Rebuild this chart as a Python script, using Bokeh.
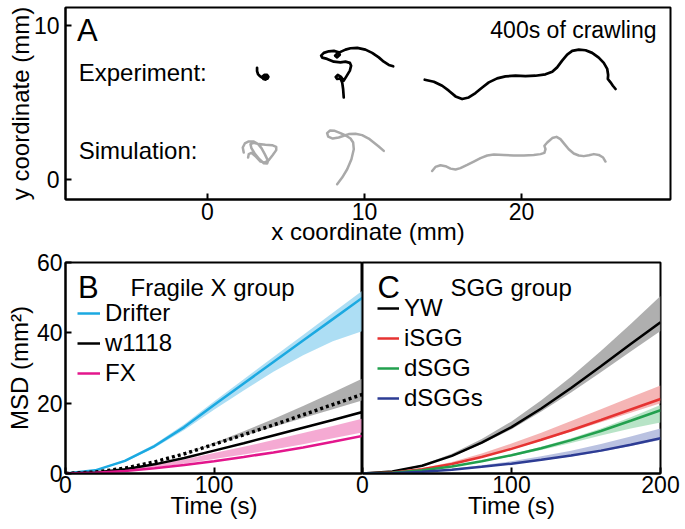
from bokeh.plotting import figure
from bokeh.models import Label, Legend, LegendItem, FixedTicker, Range1d
from bokeh.layouts import column, row
from bokeh.embed import file_html
from bokeh.resources import INLINE

FONT = "Liberation Sans"

# ---------------- Panel A: example trajectories (mm) ----------------
exp1_x = [3.16, 3.16, 3.22, 3.34, 3.50, 3.66, 3.82, 3.88, 3.80, 3.62, 3.50, 3.56, 3.72, 3.84, 3.76, 3.60]
exp1_y = [7.26, 7.05, 6.86, 6.72, 6.62, 6.54, 6.56, 6.68, 6.80, 6.80, 6.68, 6.54, 6.50, 6.62, 6.74, 6.70]

exp2_x = [8.68, 8.64, 8.58, 8.47, 8.26, 8.17, 8.30, 8.51, 8.68, 8.85, 9.07, 9.15, 9.07, 8.79,
          8.47, 8.05, 7.62, 7.31, 7.24, 7.41, 7.73, 8.05, 8.36, 8.43, 8.26, 8.13, 8.26, 8.51,
          8.79, 9.11, 9.54, 10.06, 10.49, 10.91, 11.23, 11.55, 11.83]
exp2_y = [5.34, 5.89, 6.32, 6.58, 6.54, 6.67, 6.80, 6.67, 6.43, 6.71, 7.08, 7.40, 7.58, 7.66,
          7.62, 7.66, 7.84, 7.92, 8.05, 8.23, 8.33, 8.36, 8.27, 8.10, 7.94, 8.05, 8.18, 8.31,
          8.44, 8.53, 8.55, 8.44, 8.23, 7.94, 7.66, 7.45, 7.36]

exp3_x = [13.84, 14.42, 14.95, 15.37, 15.80, 16.22, 16.64, 17.07, 17.50, 17.92, 18.45, 18.98,
          19.62, 20.25, 20.89, 21.53, 21.96, 22.27, 22.59, 22.91, 23.23, 23.65, 24.08, 24.50,
          24.92, 25.24, 25.46, 25.52, 25.50, 25.67, 25.82, 25.99]
exp3_y = [6.49, 6.36, 6.10, 5.78, 5.41, 5.24, 5.34, 5.63, 5.99, 6.32, 6.58, 6.71,
          6.75, 6.73, 6.75, 6.84, 7.01, 7.29, 7.73, 8.12, 8.36, 8.44, 8.40, 8.23,
          7.92, 7.58, 7.19, 6.80, 6.54, 6.32, 6.10, 5.89]

sim1_x = [2.31, 2.25, 2.38, 2.63, 2.95, 3.23, 3.44, 3.65, 3.86, 3.80, 3.59, 3.31, 3.01, 2.80,
          2.74, 2.95, 3.27, 3.69, 4.12, 4.38, 4.38, 4.16, 3.90, 3.65, 3.38, 3.10, 2.80, 2.63, 2.59]
sim1_y = [1.77, 2.10, 2.36, 2.49, 2.49, 2.32, 2.06, 1.67, 1.23, 1.06, 1.08, 1.34, 1.71, 2.06,
          2.32, 2.40, 2.32, 2.27, 2.25, 2.14, 1.93, 1.62, 1.28, 1.12, 1.19, 1.49, 1.75, 1.67, 1.45]

sim2_x = [8.26, 8.58, 8.90, 9.17, 9.32, 9.28, 9.11, 8.83, 8.47, 8.11, 7.81, 7.62, 7.69, 7.98,
          8.36, 8.68, 9.00, 9.43, 9.85, 10.27, 10.59, 10.91, 11.23]
sim2_y = [-0.28, 0.15, 0.69, 1.34, 1.99, 2.42, 2.68, 2.86, 3.03, 3.18, 3.20, 3.03, 2.81, 2.68,
          2.75, 2.86, 2.97, 2.99, 2.90, 2.68, 2.42, 2.16, 1.88]

sim3_x = [14.31, 14.52, 14.84, 15.16, 15.48, 15.80, 16.11, 16.54, 16.96, 17.39, 17.82, 18.24,
          18.87, 19.51, 20.15, 20.78, 21.21, 21.46, 21.53, 21.46, 21.64, 21.96, 22.23, 22.48,
          22.74, 23.01, 23.33, 23.65, 23.97, 24.29, 24.61, 24.92, 25.20, 25.35]
sim3_y = [0.58, 0.84, 0.95, 0.89, 0.73, 0.67, 0.76, 0.97, 1.19, 1.41, 1.58, 1.64,
          1.62, 1.58, 1.58, 1.62, 1.67, 1.75, 1.99, 2.21, 2.42, 2.71, 2.79, 2.64,
          2.32, 1.99, 1.71, 1.58, 1.54, 1.60, 1.67, 1.62, 1.45, 1.19]

a_xticks = [0, 10, 20]
a_yticks = [0, 10]

# ---------------- Panels B & C: MSD curves ----------------
t = [0, 20, 40, 60, 80, 100, 120, 140, 160, 180, 200]

# Fragile X group
drifter = [0, 0.9, 3.6, 7.8, 13.2, 19.5, 25.6, 31.7, 37.8, 43.9, 50]
drifter_lo = [0, 0.8, 3.3, 7.3, 12.4, 18.1, 23.6, 28.9, 33.6, 37.6, 40.5]
drifter_hi = [0, 1.0, 3.9, 8.3, 14.0, 20.5, 26.8, 33.1, 39.4, 45.7, 52]
w1118 = [0, 0.3, 1.2, 2.6, 4.4, 6.5, 8.6, 10.8, 13.0, 15.2, 17.5]
w1118_sim = [0, 0.4, 1.5, 3.3, 5.6, 8.3, 11.0, 13.8, 16.7, 19.6, 22.5]
w1118_lo = [0, 0.4, 1.5, 3.3, 5.6, 8.2, 10.7, 13.2, 15.8, 18.3, 20.8]
w1118_hi = [0, 0.4, 1.5, 3.3, 5.7, 8.7, 12.0, 15.5, 19.2, 23.0, 27.0]
fx = [0, 0.2, 0.7, 1.5, 2.4, 3.5, 4.7, 6.0, 7.4, 9.0, 10.7]
fx_lo = [0, 0.25, 0.8, 1.7, 2.8, 4.1, 5.4, 6.8, 8.3, 10.0, 11.7]
fx_hi = [0, 0.3, 1.1, 2.4, 4.0, 5.8, 7.6, 9.5, 11.5, 13.5, 15.6]

# SGG group
yw = [0, 0.6, 2.2, 5.0, 8.8, 13.2, 18.5, 24.3, 30.5, 36.8, 43]
yw_lo = [0, 0.6, 2.1, 4.8, 8.4, 12.6, 17.6, 23.0, 28.8, 34.7, 40.5]
yw_hi = [0, 0.7, 2.5, 5.6, 9.8, 14.8, 20.8, 27.5, 34.8, 42.5, 50.5]
isgg = [0, 0.3, 1.2, 2.7, 4.7, 7.0, 9.6, 12.3, 15.2, 18.2, 21.2]
isgg_lo = [0, 0.3, 1.2, 2.7, 4.6, 6.8, 9.3, 11.9, 14.6, 17.3, 20.0]
isgg_hi = [0, 0.4, 1.5, 3.3, 5.7, 8.5, 11.6, 14.9, 18.3, 21.7, 25.0]
dsgg = [0, 0.2, 0.9, 2.0, 3.5, 5.2, 7.2, 9.5, 12.1, 15.0, 18.0]
dsgg_lo = [0, 0.2, 0.85, 1.9, 3.3, 4.9, 6.7, 8.7, 10.8, 12.8, 14.5]
dsgg_hi = [0, 0.2, 0.95, 2.1, 3.7, 5.5, 7.6, 10.0, 12.8, 16.0, 19.5]
dsggs = [0, 0.1, 0.5, 1.1, 1.9, 2.8, 3.9, 5.1, 6.5, 8.2, 10.0]
dsggs_lo = [0, 0.1, 0.48, 1.05, 1.8, 2.65, 3.7, 4.85, 6.2, 7.8, 9.5]
dsggs_hi = [0, 0.12, 0.6, 1.35, 2.35, 3.5, 4.9, 6.5, 8.4, 10.5, 12.8]

b_xticks = [0, 100]
c_xticks = [0, 100, 200]
msd_yticks = [0, 20, 40, 60]


def style_axes(p, tick_size, label_size):
    p.outline_line_color = "black"
    p.outline_line_width = 2
    p.outline_line_alpha = 1
    p.grid.visible = False
    p.background_fill_color = "white"
    for ax in p.axis:
        ax.major_tick_in = 6
        ax.major_tick_out = 0
        ax.minor_tick_in = 0
        ax.minor_tick_out = 0
        ax.axis_line_width = 2
        ax.major_tick_line_width = 2
        ax.major_label_text_font = FONT
        ax.major_label_text_font_size = tick_size
        ax.major_label_text_color = "black"
        ax.axis_label_text_font = FONT
        ax.axis_label_text_font_size = label_size
        ax.axis_label_text_font_style = "normal"
        ax.axis_label_text_color = "black"


def label(p, x, y, text, size, align="left"):
    p.add_layout(Label(x=x, y=y, text=text, text_font=FONT, text_font_size=size,
                       text_color="black", text_baseline="middle", text_align=align))


# ---------------- Figure A ----------------
pA = figure(frame_width=605, frame_height=192, x_range=Range1d(-9.04, 29.49),
            y_range=Range1d(-1.27, 11.17), output_backend="svg", toolbar_location=None,
            min_border_left=65, min_border_right=15, min_border_top=7, min_border_bottom=51)
pA.xaxis.ticker = FixedTicker(ticks=a_xticks)
pA.yaxis.ticker = FixedTicker(ticks=a_yticks)
pA.xaxis.axis_label = "x coordinate (mm)"
pA.yaxis.axis_label = "y coordinate (mm)"
style_axes(pA, "23px", "24px")
pA.xaxis.major_label_standoff = 3
pA.xaxis.axis_label_standoff = -5
pA.yaxis.major_label_standoff = 6
pA.yaxis.axis_label_standoff = -3

for xs, ys in [(exp1_x, exp1_y), (exp2_x, exp2_y), (exp3_x, exp3_y)]:
    pA.line(xs, ys, line_color="black", line_width=2.7, line_join="round", line_cap="round")
for xs, ys in [(sim1_x, sim1_y), (sim2_x, sim2_y), (sim3_x, sim3_y)]:
    pA.line(xs, ys, line_color="#A9A9A9", line_width=2.5, line_join="round", line_cap="round")

label(pA, -8.3, 9.68, "A", "31px")
label(pA, 28.6, 9.68, "400s of crawling", "23px", "right")
label(pA, -8.2, 6.98, "Experiment:", "24px")
label(pA, -8.2, 1.92, "Simulation:", "24px")

# ---------------- Figure B ----------------
pB = figure(frame_width=297, frame_height=211, x_range=Range1d(0, 200), y_range=Range1d(0, 60),
            output_backend="svg", toolbar_location=None,
            min_border_left=65, min_border_right=0, min_border_top=12, min_border_bottom=56)
pB.xaxis.ticker = FixedTicker(ticks=b_xticks)
pB.yaxis.ticker = FixedTicker(ticks=msd_yticks)
pB.xaxis.axis_label = "Time (s)"
pB.yaxis.axis_label = "MSD (mm²)"
style_axes(pB, "23px", "24px")
pB.xaxis.major_label_standoff = 2
pB.xaxis.axis_label_standoff = -4
pB.yaxis.major_label_standoff = 3
pB.yaxis.axis_label_standoff = 1

pB.varea(x=t, y1=drifter_lo, y2=drifter_hi, fill_color="#9FD8F2", fill_alpha=0.85)
pB.varea(x=t, y1=w1118_lo, y2=w1118_hi, fill_color="#A6A6A6", fill_alpha=0.9)
pB.varea(x=t, y1=fx_lo, y2=fx_hi, fill_color="#F39BCB", fill_alpha=0.85)
r_dr = pB.line(t, drifter, line_color="#1BA9E1", line_width=2.5)
pB.line(t, w1118_sim, line_color="black", line_width=3.5, line_dash="3 3")
r_w = pB.line(t, w1118, line_color="black", line_width=2.5)
r_fx = pB.line(t, fx, line_color="#E3168C", line_width=2.5)

legB = Legend(items=[LegendItem(label="Drifter", renderers=[r_dr]),
                     LegendItem(label="w1118", renderers=[r_w]),
                     LegendItem(label="FX", renderers=[r_fx])],
              location=(12, 86), label_text_font=FONT, label_text_font_size="24px",
              label_text_color="black",
              glyph_width=23, glyph_height=26, label_height=26, label_standoff=5, spacing=2,
              padding=0, margin=0, border_line_color=None, background_fill_alpha=0)
pB.add_layout(legB)
label(pB, 8.5, 52.9, "B", "31px")
label(pB, 43.8, 52.9, "Fragile X group", "24px")

# ---------------- Figure C ----------------
pC = figure(frame_width=298, frame_height=211, x_range=Range1d(0, 200), y_range=Range1d(0, 60),
            output_backend="svg", toolbar_location=None,
            min_border_left=8, min_border_right=25, min_border_top=12, min_border_bottom=56)
pC.xaxis.ticker = FixedTicker(ticks=c_xticks)
pC.xaxis.axis_label = "Time (s)"
pC.yaxis.visible = False
style_axes(pC, "23px", "24px")
pC.xaxis.major_label_standoff = 2
pC.xaxis.axis_label_standoff = -4
pC.border_fill_alpha = 0
pC.margin = (0, 0, 0, -8)

pC.varea(x=t, y1=yw_lo, y2=yw_hi, fill_color="#A6A6A6", fill_alpha=0.9)
pC.varea(x=t, y1=isgg_lo, y2=isgg_hi, fill_color="#F3A3A3", fill_alpha=0.8)
pC.varea(x=t, y1=dsgg_lo, y2=dsgg_hi, fill_color="#A6DDB9", fill_alpha=0.8)
pC.varea(x=t, y1=dsggs_lo, y2=dsggs_hi, fill_color="#A9B3DA", fill_alpha=0.8)
r_yw = pC.line(t, yw, line_color="black", line_width=2.5)
r_is = pC.line(t, isgg, line_color="#E63332", line_width=2.5)
r_ds = pC.line(t, dsgg, line_color="#22A04E", line_width=2.5)
r_dss = pC.line(t, dsggs, line_color="#2D3C94", line_width=2.5)

legC = Legend(items=[LegendItem(label="YW", renderers=[r_yw]),
                     LegendItem(label="iSGG", renderers=[r_is]),
                     LegendItem(label="dSGG", renderers=[r_ds]),
                     LegendItem(label="dSGGs", renderers=[r_dss])],
              location=(15, 61), label_text_font=FONT, label_text_font_size="24px",
              label_text_color="black",
              glyph_width=22, glyph_height=26, label_height=26, label_standoff=5, spacing=2,
              padding=0, margin=0, border_line_color=None, background_fill_alpha=0)
pC.add_layout(legC)
label(pC, 10, 52.9, "C", "31px")
label(pC, 59, 52.9, "SGG group", "24px")

layout = column(pA, row(pB, pC, spacing=0), spacing=0)
open("out.html", "w").write(file_html(layout, INLINE))
